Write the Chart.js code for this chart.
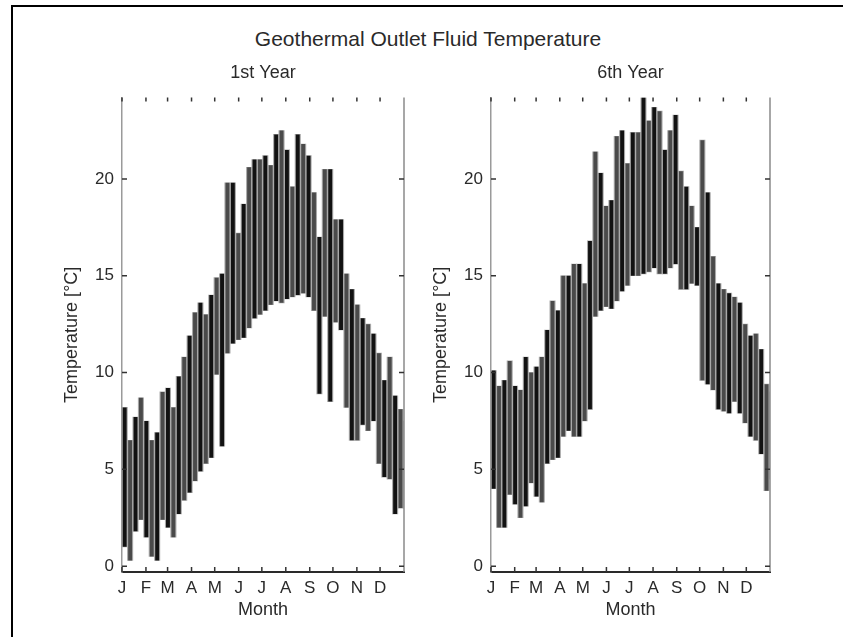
<!DOCTYPE html>
<html>
<head>
<meta charset="utf-8">
<script src="https://cdn.jsdelivr.net/npm/chart.js@4.4.1/dist/chart.umd.min.js"></script>
<style>
  body { margin: 0; background: #fff; width: 843px; height: 637px; overflow: hidden; position: relative;
         font-family: "Liberation Sans", Arial, sans-serif; }
  #frame { position: absolute; left: 11px; top: 5px; width: 900px; height: 700px;
           border-left: 2px solid #000; border-top: 2px solid #000; }
  #title { position: absolute; left: 0; top: 27px; width: 856px; text-align: center;
           font-size: 21px; color: #2a2a2a; }
  .box { position: absolute; top: 55px; width: 390px; height: 575px; }
</style>
</head>
<body>
<div id="frame"></div>
<div id="title">Geothermal Outlet Fluid Temperature</div>
<div class="box" style="left:30px"><canvas id="year1"></canvas></div>
<div class="box" style="left:399px"><canvas id="year6"></canvas></div>
<script>
// month axis
var monthStart = [0, 31, 59, 90, 120, 151, 181, 212, 243, 273, 304, 334]
var monthLabels = ['J', 'F', 'M', 'A', 'M', 'J', 'J', 'A', 'S', 'O', 'N', 'D']
var tempTicks = [0, 5, 10, 15, 20]

// weekly range of outlet temperature [°C]
var hi1 = [8.2, 6.5, 7.7, 8.7, 7.5, 6.5, 6.9, 9.0, 9.2, 8.2, 9.8, 10.8, 11.9, 13.1,
    13.6, 13.0, 14.0, 14.9, 15.1, 19.8, 19.8, 17.2, 18.7, 20.6, 21.0, 21.0, 21.2,
    20.7, 22.3, 22.5, 21.5, 19.6, 22.3, 21.8, 21.2, 19.3, 17.0, 20.5, 20.5, 17.9,
    17.9, 15.1, 14.3, 13.5, 12.8, 12.5, 12.0, 11.0, 9.6, 10.8, 8.8, 8.1, 7.5]
var lo1 = [1.0, 0.3, 1.8, 2.4, 1.5, 0.5, 0.3, 2.4, 2.0, 1.5, 2.7, 3.4, 3.8, 4.4,
    4.9, 5.3, 5.6, 9.9, 6.2, 11.0, 11.5, 11.7, 11.8, 12.3, 12.8, 13.0, 13.2,
    13.5, 13.7, 13.6, 13.8, 13.9, 14.0, 14.1, 13.9, 13.2, 8.9, 12.9, 8.5, 12.6,
    12.2, 8.2, 6.5, 6.5, 7.3, 7.0, 7.5, 5.3, 4.6, 4.5, 2.7, 3.0, 3.0]

var hi6 = [10.1, 9.3, 9.6, 10.6, 9.3, 9.1, 10.8, 10.0, 10.3, 10.8, 12.2, 13.7, 13.2,
    15.0, 15.0, 15.6, 15.6, 14.6, 16.8, 21.4, 20.3, 18.6, 18.9, 22.2, 22.5, 20.8,
    22.4, 22.4, 24.2, 23.0, 23.7, 23.5, 21.5, 22.5, 23.3, 20.4, 19.6, 18.6, 17.5,
    22.0, 19.3, 16.0, 14.6, 14.3, 14.1, 13.9, 13.6, 12.5, 11.9, 12.0, 11.2, 9.4, 9.0]
var lo6 = [4.0, 2.0, 2.0, 3.7, 3.2, 2.5, 3.1, 4.3, 3.6, 3.3, 5.3, 5.5, 5.6,
    6.7, 7.0, 6.7, 6.7, 7.5, 8.1, 12.9, 13.2, 13.4, 13.3, 13.7, 14.2, 14.5,
    15.0, 15.0, 15.1, 15.2, 15.4, 15.1, 15.1, 15.4, 15.6, 14.3, 14.3, 14.6, 14.5,
    9.6, 9.4, 9.1, 8.1, 8.0, 7.9, 8.5, 7.9, 7.4, 6.7, 6.5, 5.8, 3.9, 4.5]

var txtColor = '#2a2a2a'
var fontBig = { family: '"Liberation Sans", Arial, sans-serif', size: 18, weight: 'normal' }
var fontTick = { family: '"Liberation Sans", Arial, sans-serif', size: 17 }

function weekData(lo, hi) {
    var out = []
    for (var i = 0; i < lo.length; i++) {
        out.push({ x: i * 7 + 3.5, y: [lo[i], hi[i]] })
    }
    return out
}

// inward tick marks + right axis line, like the matlab box
var boxTicks = {
    id: 'boxTicks',
    afterDraw: function (chart) {
        var ctx = chart.ctx
        var a = chart.chartArea
        var xs = chart.scales.x
        var ys = chart.scales.y
        ctx.save()
        ctx.strokeStyle = '#8a8a8a'
        ctx.lineWidth = 1.5
        ctx.beginPath()
        ctx.moveTo(a.right, a.top)
        ctx.lineTo(a.right, a.bottom)
        ctx.stroke()
        ctx.strokeStyle = '#333'
        ctx.lineWidth = 1.5
        ctx.beginPath()
        monthStart.forEach(function (d) {
            var px = xs.getPixelForValue(d)
            ctx.moveTo(px, a.bottom)
            ctx.lineTo(px, a.bottom - 5)
            ctx.moveTo(px, a.top)
            ctx.lineTo(px, a.top + 4)
        })
        tempTicks.forEach(function (t) {
            var py = ys.getPixelForValue(t)
            ctx.moveTo(a.left, py)
            ctx.lineTo(a.left + 5, py)
            ctx.moveTo(a.right, py)
            ctx.lineTo(a.right - 5, py)
        })
        ctx.stroke()
        ctx.restore()
    }
}

function panel(id, title, lo, hi, rightPad) {
    return new Chart(id, {
        type: 'bar',
        data: {
            datasets: [{
                // light backing, shows through the gaps
                data: weekData(lo, hi),
                backgroundColor: '#a8a8a8',
                borderWidth: 0,
                grouped: false,
                order: 2,
                barPercentage: 1.0,
                categoryPercentage: 1.0
            }, {
                data: weekData(lo, hi),
                backgroundColor: function (c) { return c.dataIndex % 2 ? '#4a4a4a' : '#121212' },
                borderWidth: 0,
                grouped: false,
                order: 1,
                barPercentage: 0.72,
                categoryPercentage: 1.0
            }]
        },
        options: {
            responsive: false,
            animation: false,
            devicePixelRatio: 1,
            layout: { padding: { left: 0, right: rightPad, top: 0, bottom: 0 } },
            plugins: {
                legend: { display: false },
                tooltip: { enabled: false },
                title: {
                    display: true,
                    text: title,
                    color: txtColor,
                    font: fontBig,
                    fullSize: false,
                    padding: { top: 7, bottom: 14 }
                }
            },
            scales: {
                x: {
                    type: 'linear',
                    min: 0,
                    max: 365,
                    offset: false,
                    grid: { display: false, drawTicks: false },
                    border: { display: true, color: '#2a2a2a', width: 2 },
                    afterBuildTicks: function (s) {
                        s.ticks = monthStart.map(function (v) { return { value: v } })
                    },
                    ticks: {
                        autoSkip: false,
                        maxRotation: 0,
                        padding: 6,
                        color: txtColor,
                        font: fontTick,
                        callback: function (v) { return monthLabels[monthStart.indexOf(v)] }
                    },
                    title: { display: true, text: 'Month', color: txtColor, font: fontBig, padding: { top: 0, bottom: 9 } },
                    afterFit: function (s) { s.height = 58 }
                },
                y: {
                    min: -0.3,
                    max: 24.2,
                    grid: { display: false, drawTicks: false },
                    border: { display: true, color: '#9a9a9a', width: 1.5 },
                    afterBuildTicks: function (s) {
                        s.ticks = tempTicks.map(function (v) { return { value: v } })
                    },
                    ticks: { padding: 8, color: txtColor, font: fontTick },
                    title: { display: true, text: 'Temperature [°C]', color: txtColor, font: fontBig, padding: { top: 31, bottom: 0 } },
                    afterFit: function (s) { s.width = 92 }
                }
            }
        },
        plugins: [boxTicks]
    })
}

var c1 = document.getElementById('year1')
c1.width = 390; c1.height = 575
var c6 = document.getElementById('year6')
c6.width = 390; c6.height = 575

panel('year1', '1st Year', lo1, hi1, 16)
panel('year6', '6th Year', lo6, hi6, 19)
</script>
</body>
</html>
